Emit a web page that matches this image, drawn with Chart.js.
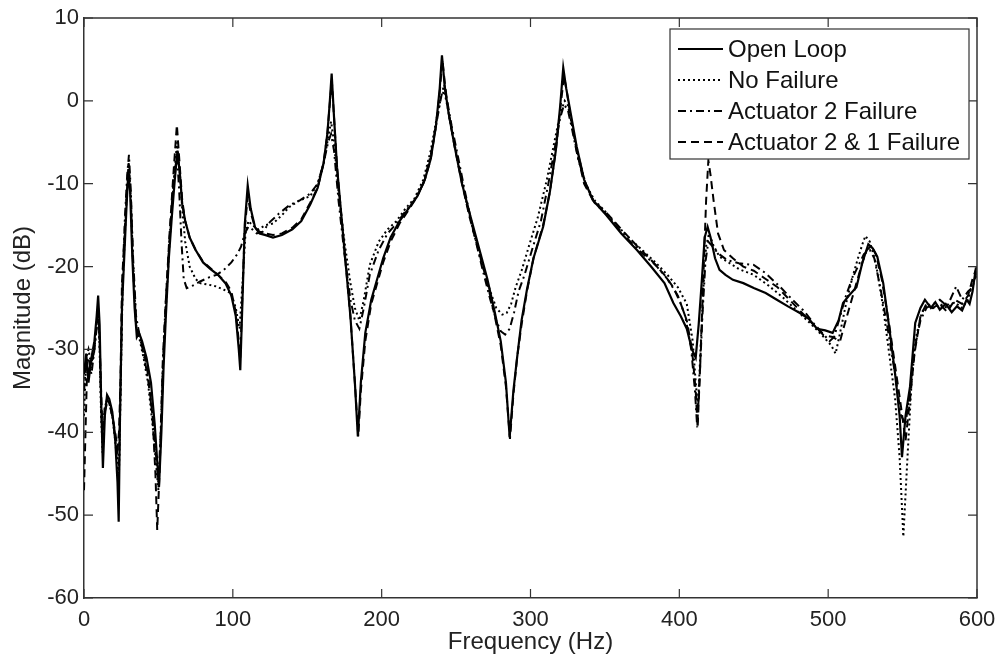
<!DOCTYPE html>
<html><head><meta charset="utf-8">
<script src="https://cdn.jsdelivr.net/npm/chart.js@4.4.1/dist/chart.umd.min.js"></script>
<style>html,body{margin:0;padding:0;background:#fff}</style>
</head><body>
<canvas id="c" width="1000" height="658"></canvas>
<script>
// ---------- DATA ----------
const seriesNames = ['Open Loop', 'No Failure', 'Actuator 2 Failure', 'Actuator 2 & 1 Failure'];
const xTicks = [0, 100, 200, 300, 400, 500, 600];
const yTicks = [-60, -50, -40, -30, -20, -10, 0, 10];

// Open Loop (solid)
const olFreq = [0,1.5,3,5,7,8.5,9.5,10.5,11.5,12.7,14,15.5,17,19,21,22.5,23.3,24.2,25.5,27,
  28.5,29.8,31,32.5,34,35.5,37,39,42,45,47.5,49,50.4,52,53.5,55,57,59,61,62.8,
  64.5,66,68,71,75,80,85,90,95,99,102,104,105,106.5,108,110,112,115,118,122,
  127,133,140,146,152,157,161,163.5,165,166.4,168,170,173,176,179,182,184,186,189,193,
  197,201,206,212,218,224,229,233,236.5,239,240.5,242.5,245,249,254,259,265,271,276,280,
  283.5,286,288.5,291,294,297.6,302,308.5,313,317,320,322,324,327,331,336,342,351,361,371.5,
  381,390,396,401,405,408.5,411,413,415,417,419,421,424,427,431,436,443,450,458,465.5,
  473,481,487,492.5,498,503,507,510,514,519,523,527,530,533,537,541.5,545,548,549.6,552,
  555,558.5,562,565,569,572,575,579,583,586.5,590,593,595,597,599,600];
const olMag = [-33,-30.5,-34,-31,-29,-26,-23.5,-27,-36,-44.3,-38,-35.5,-36,-37.5,-41,-46,-50.8,-38,-25,-19,
  -13,-8.5,-11,-19,-25,-28.5,-28,-29,-31,-34,-39,-43,-46.6,-40,-32,-26,-19,-14,-9.5,-6,
  -9,-12.5,-14.5,-16.5,-18,-19.5,-20.3,-21,-22,-23.5,-26,-30,-32.5,-24,-15,-10.2,-13,-15.3,-16,-16.2,
  -16.5,-16.2,-15.5,-14.5,-12.5,-10.5,-7.5,-4,-0.5,3.3,-2,-8,-14,-20,-26,-34,-40.5,-34,-28,-24,
  -21.5,-19,-16.5,-14.5,-13,-11.5,-9.5,-7,-3,1.5,5.5,1.5,-1.5,-5.5,-10,-13.5,-17.5,-21.5,-25.5,-29,
  -34,-40.6,-35,-31,-26.5,-22.8,-19,-15.2,-11,-6,-0.5,4,1.5,-1.5,-5.5,-9.5,-12,-13.8,-16,-18,
  -20,-22,-24.4,-26,-27.5,-30,-31,-27,-22,-16.5,-15.2,-16.5,-19,-20.4,-21,-21.6,-22,-22.6,-23.2,-24,
  -24.8,-25.6,-26.3,-27.5,-27.7,-28,-26.5,-24.4,-23.5,-22.5,-19.5,-17.3,-17.8,-18.8,-22,-28,-33,-38,-43,-38,
  -34.5,-26.8,-25,-24,-25,-24.3,-25.2,-24.5,-25.5,-24.8,-25.3,-24,-24.5,-23,-20.5,-21];

// No Failure (dotted)
const nfFreq = [0,1.5,3,5,7,8.5,9.5,10.5,11.5,12.5,14,15.5,17,19,21,22.5,23.5,24.5,26,27.5,
  29,30,31.5,33,35,37,40,43,46,48.5,50,51.5,53,55,57.5,60,62.5,64.5,66,68,
  71,75,78,84,89,94,98.6,102,104.5,106.5,108.5,110.5,113,117,122,127,133,138,145,152,
  157,161,164,166,168,171,175,179,182,185,188,192,198,204,210,216,222,228,233,237,
  240,242,244,247,251,256,262,268,273,277,281,284,287,290,294,299,305,311,316,320,
  323,325,328,332,337,343,350,358,366,375,384,392,399,405,409,411,412.5,414,416,418,
  420,423,427,433,440,450,460,470,480,490,497,502,505,508,512,516,520,523,525,528,
  532,537,541,545,548,550.5,553,556,559,563,567,571,575,580,585,590,594,597,600];
const nfMag = [-38,-31,-30,-32,-30,-27,-25,-30,-38,-42.5,-37,-36,-36.5,-38,-41,-44,-45,-36,-22,-16,
  -10,-7.5,-12,-20,-27,-28.5,-31,-34,-39,-44,-47,-41,-32,-25,-17,-10.5,-5,-9,-13,-17,
  -20,-21.5,-22,-22.2,-22.4,-22.8,-23.2,-25,-27.5,-22,-16,-14.5,-15,-15.5,-15,-14.8,-13.8,-12.8,-12,-11.5,
  -10,-7.5,-4.5,-2.5,-5,-11,-17,-22,-25,-26.5,-24,-19.8,-17,-15.5,-14.5,-13,-11.8,-9.5,-6,-2,
  0.5,1.2,-0.5,-3.5,-7,-11.5,-16,-20,-23,-25,-25.8,-25.6,-24.5,-22.5,-20.5,-17.5,-14,-9.5,-5,-1.5,
  0,-0.5,-3,-6.5,-10,-12,-13.3,-15,-16.5,-18,-19.5,-21,-22.5,-24.5,-29,-34,-37,-31,-23,-17.5,
  -16,-17.5,-18.8,-19.5,-20.3,-21,-22.3,-23.8,-25.5,-27.2,-28.5,-29.5,-30.5,-28,-24.5,-21.5,-19,-17.3,-16.3,-17,
  -19.5,-25,-30.5,-36,-43,-52.6,-44,-34,-28.5,-25.5,-24.5,-25,-24.5,-25,-24.3,-25,-24,-22,-21];

// Actuator 2 Failure (dash-dot)
const a2Freq = [0,1.5,3,5,7,8.5,9.5,10.5,11.5,12.5,14,15.5,17,19,21,22.5,23.5,24.5,26,27.5,
  29,30.2,31.5,33,35,37,40,43,46,48.5,50,51.5,53,55,57.5,60,62.5,64,65.5,67,
  69,73,78,84,89,94,99,103,105.5,108,110.5,113,116,120,125,131,138,145,152,157,
  161,164,166,168,171,175,179,182,185,188,192,198,204,210,216,222,228,233,237,240,
  242,244,247,251,256,262,268,273,277,280,283,286,289,292,296,301,307,312,316,320,
  322.5,325,328,332,337,343,350,358,366,375,384,392,399,404,408,410.5,412,413.5,415.5,417.5,
  419.5,422,426,432,440,450,458,468,476,484,490,496,501,504,508,512,516,520,524,528,
  531,535,540,545,549,552,555,558,562,566,570,575,580,586,590,594,597,600];
const a2Mag = [-35,-32,-31,-33,-30,-27.5,-25.5,-29,-37,-41,-37.5,-36.5,-36.5,-38,-40.5,-43,-44,-35,-21,-14,
  -9,-6.5,-11,-19,-26,-28,-30.5,-33.5,-38,-43,-46,-40,-31,-24,-16.5,-10,-6.5,-11,-17,-21.5,
  -22.6,-22.3,-21.8,-21.3,-21,-20.4,-19.5,-18.5,-17.6,-16,-15.2,-15.5,-16,-15.8,-14.6,-13.6,-12.6,-12,-11.2,-10,
  -7.5,-5,-4,-6,-12,-18.5,-24,-26.5,-27.5,-25,-21,-18,-16,-14.8,-13.3,-12,-10,-6.5,-2.5,0.5,
  2,0,-3,-6.5,-11,-16,-20.5,-24,-26.5,-27.8,-28.2,-27.5,-25.5,-23,-21,-18,-14.5,-10,-6,-2,
  -0.5,-1,-3.5,-7,-10,-12.3,-13.5,-15.2,-16.8,-18.4,-19.8,-21.5,-23.5,-26,-30,-35,-39.4,-34,-26,-19.5,
  -17,-17.5,-18.4,-19.2,-19.6,-19.8,-20.8,-22.5,-24,-25.4,-26.8,-28,-29,-28.5,-26,-23.5,-21.5,-20,-18.5,-18,
  -19,-22.5,-27.5,-33,-38,-39,-35,-30,-26.5,-25,-24.6,-24,-24.8,-22.4,-24,-23,-22.5,-20.5];

// Actuator 2 & 1 Failure (dashed)
const a21Freq = [0,1,2,4,6,8,9.5,10.5,11.5,12.5,14,15.5,17,19,21,22.5,23.5,24.5,25.5,27,
  28.5,30,31.5,33,35,37,40,43,46,48,49.2,50.5,52,53.5,55,57.5,60,62.4,64,66,
  68,71,75,80,85,90,95,99,102,104,105,106.5,108,110,112,115,118,122,127,133,
  140,146,152,157,161,163.5,165.3,166.5,168,170,173,176,179,182,184.3,186,189,193,197,201,
  206,212,218,224,229,233,236.5,239,240.8,242.5,245,249,254,259,265,271,276,280,283.5,286.2,
  288.5,291,294,297.6,302,308.5,313,317,320,322.5,324.5,327,331,336,342,351,361,371.5,381,390,
  396,401,405,408.5,411,412.3,414,416,418,419.5,421,423,426,430,436,443,450,458,466,474,
  482,490,497,503,508,511,515,519,523,526,529,532,536,541,545,549,552,555,558,562,
  566,570,575,580,585,590,594,597,600];
const a21Mag = [-47,-40,-33,-32,-31,-28,-25,-29,-35,-40,-37,-36,-36.5,-38,-40,-42,-40,-34,-22,-17,
  -12,-7.5,-12,-20,-27,-28.5,-30,-33,-38,-45,-51.8,-46,-38,-30,-24,-16,-9,-2.9,-7,-12,
  -14.5,-16.5,-18,-19.4,-20.2,-21,-21.8,-23,-25.5,-29,-31,-23,-15.5,-11.5,-13.5,-15.3,-15.8,-16,-16.2,-16,
  -15.3,-14.3,-12.3,-10.5,-7.5,-4,0,2.5,-2,-8,-14,-20,-26,-34,-40.5,-35,-29,-24.5,-22,-19.5,
  -17,-14.8,-13.2,-11.5,-9.5,-7,-3,1,5,2,-1.5,-5.5,-10,-14,-18,-22,-26,-29.5,-34.5,-40.8,
  -35.5,-31,-27,-23,-19,-15,-11,-6,-1,3,1,-2,-6,-10,-12,-13.5,-15.5,-17.5,-19.2,-21,
  -22.5,-24.5,-26.5,-30,-35,-39.5,-32,-22,-12,-7.2,-9,-12,-16,-18,-19,-20,-20.5,-21.5,-22.5,-24,
  -25.5,-27,-28.3,-28.5,-29,-27,-24.5,-22,-19.5,-18,-17.5,-18.5,-21.5,-27,-32,-37,-41,-36,-30.5,-26,
  -24.5,-25,-24.5,-25.5,-24,-24.5,-23.5,-21.5,-20];

// ---------- CHART ----------
const FONT = "Arial, 'Liberation Sans', sans-serif";
Chart.defaults.font.family = FONT;
Chart.defaults.color = '#222';

function pts(fs, ms) { return fs.map((f, i) => ({ x: f, y: ms[i] })); }

const dashStyles = [[], [2, 3], [8, 4, 2, 4], [8, 5]];
const allFreq = [olFreq, nfFreq, a2Freq, a21Freq];
const allMag = [olMag, nfMag, a2Mag, a21Mag];

const datasets = seriesNames.map((name, i) => ({
  label: name,
  data: pts(allFreq[i], allMag[i]),
  borderColor: '#000',
  backgroundColor: '#000',
  borderWidth: i === 0 ? 2.2 : 2,
  borderDash: dashStyles[i],
  pointRadius: 0,
  tension: 0,
  fill: false
}));

const framePlugin = {
  id: 'frame',
  afterDraw(chart) {
    const { ctx, chartArea: a, scales } = chart;
    ctx.save();
    ctx.strokeStyle = '#333';
    ctx.lineWidth = 1.5;
    ctx.beginPath();
    ctx.moveTo(a.left, a.top); ctx.lineTo(a.right, a.top); ctx.lineTo(a.right, a.bottom);
    ctx.stroke();
    const TL = 9;
    ctx.lineWidth = 1.2;
    ctx.beginPath();
    xTicks.forEach(v => {
      const x = scales.x.getPixelForValue(v);
      ctx.moveTo(x, a.bottom); ctx.lineTo(x, a.bottom - TL);
      ctx.moveTo(x, a.top); ctx.lineTo(x, a.top + TL);
    });
    yTicks.forEach(v => {
      const y = scales.y.getPixelForValue(v);
      ctx.moveTo(a.left, y); ctx.lineTo(a.left + TL, y);
      ctx.moveTo(a.right, y); ctx.lineTo(a.right - TL, y);
    });
    ctx.stroke();

    // legend box
    const bw = 299, bh = 130;
    const bx = a.right - 8 - bw, by = a.top + 11;
    ctx.fillStyle = '#fff';
    ctx.fillRect(bx, by, bw, bh);
    ctx.strokeStyle = '#333';
    ctx.lineWidth = 1.2;
    ctx.strokeRect(bx, by, bw, bh);
    ctx.font = '24px ' + FONT;
    ctx.textBaseline = 'middle';
    ctx.textAlign = 'left';
    chart.data.datasets.forEach((ds, i) => {
      const cy = by + 20 + i * 31;
      ctx.strokeStyle = '#000';
      ctx.lineWidth = 2;
      ctx.setLineDash(ds.borderDash);
      ctx.beginPath();
      ctx.moveTo(bx + 8, cy); ctx.lineTo(bx + 53, cy);
      ctx.stroke();
      ctx.setLineDash([]);
      ctx.fillStyle = '#111';
      ctx.fillText(ds.label, bx + 58, cy + 1);
    });
    ctx.restore();
  }
};

new Chart(document.getElementById('c'), {
  type: 'line',
  data: { datasets },
  options: {
    responsive: false,
    animation: false,
    layout: { padding: { top: 18, right: 23, left: 0, bottom: 0 } },
    plugins: { legend: { display: false }, tooltip: { enabled: false } },
    scales: {
      x: {
        type: 'linear', min: 0, max: 600,
        afterBuildTicks: s => { s.ticks = xTicks.map(v => ({ value: v })); },
        ticks: { font: { size: 22 }, padding: 9, color: '#222', maxRotation: 0, autoSkip: false },
        grid: { display: false, drawTicks: false },
        border: { display: true, color: '#333', width: 1.5 },
        title: { display: true, text: 'Frequency (Hz)', font: { size: 24 }, color: '#222', padding: { top: 0, bottom: 1 } },
        afterFit: s => { s.height = 60; s.paddingRight = 0; s.paddingLeft = 0; }
      },
      y: {
        type: 'linear', min: -60, max: 10,
        afterBuildTicks: s => { s.ticks = yTicks.map(v => ({ value: v })); },
        ticks: { font: { size: 22 }, padding: 5, color: '#222', autoSkip: false },
        grid: { display: false, drawTicks: false },
        border: { display: true, color: '#333', width: 1.5 },
        title: { display: true, text: 'Magnitude (dB)', font: { size: 24 }, color: '#222', padding: { top: 9, bottom: 0 } },
        afterFit: s => { s.width = 84; s.paddingTop = 0; s.paddingBottom = 0; }
      }
    }
  },
  plugins: [framePlugin]
});
</script>
</body></html>
